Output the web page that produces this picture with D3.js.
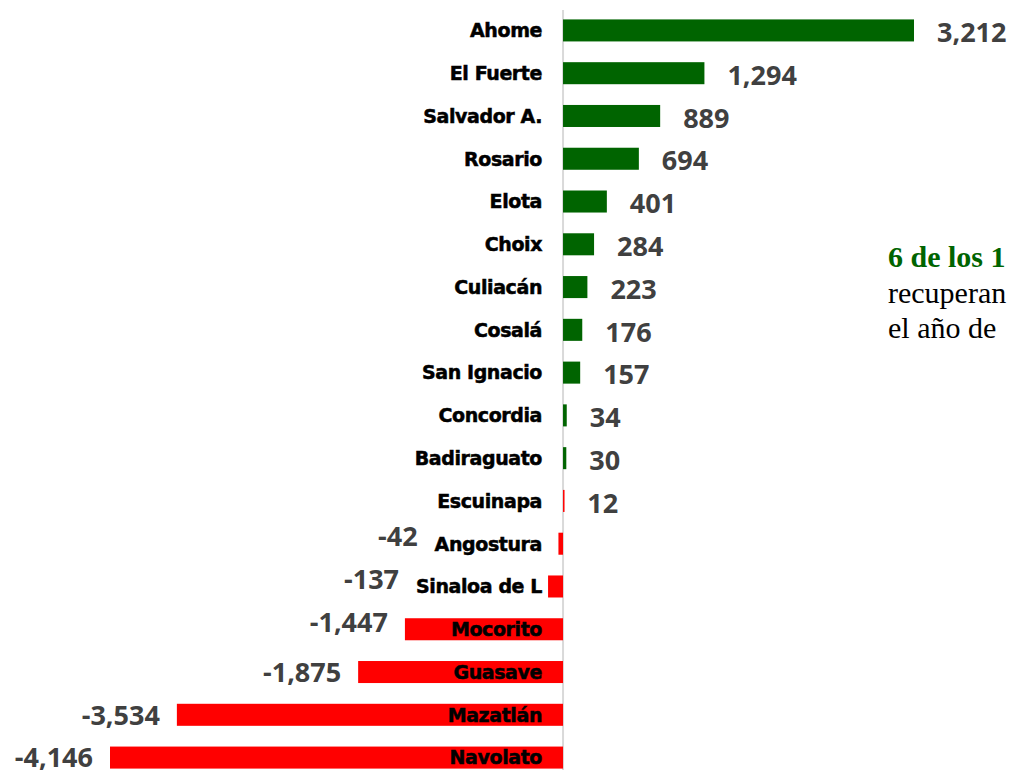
<!DOCTYPE html>
<html><head><meta charset="utf-8">
<script src="https://cdn.jsdelivr.net/npm/d3@7"></script>
<style>body{margin:0;background:#fff;overflow:hidden}</style>
</head><body>
<svg id="c" width="1011" height="770"></svg>
<script>
const categories = ["Ahome","El Fuerte","Salvador A.","Rosario","Elota","Choix","Culiacán","Cosalá","San Ignacio","Concordia","Badiraguato","Escuinapa","Angostura","Sinaloa de L","Mocorito","Guasave","Mazatlán","Navolato"];
const values = [3212,1294,889,694,401,284,223,176,157,34,30,12,-42,-137,-1447,-1875,-3534,-4146];
const redCategories = ["Escuinapa","Angostura","Sinaloa de L","Mocorito","Guasave","Mazatlán","Navolato"];
const noteLines = ["6 de los 1", "recuperan", "el año de"];

const svg = d3.select("#c");
const x = d3.scaleLinear().domain([-4146, 3212]).range([110, 914]);
const y = d3.scaleBand().domain(categories).range([10, 778]).paddingInner(0.485).paddingOuter(0.22);
const fmt = v => d3.format(",")(v).replace("\u2212", "-");
const green = "#006400", red = "#ff0000";

svg.append("line").attr("x1", x(0)).attr("x2", x(0)).attr("y1", 10).attr("y2", 770)
  .attr("stroke", "#d9d9d9").attr("stroke-width", 2);

const rows = svg.selectAll("g.row").data(categories).join("g").attr("class","row");
rows.append("rect")
  .attr("x", (d,i) => Math.min(x(0), x(values[i])))
  .attr("y", d => y(d))
  .attr("width", (d,i) => Math.max(1.5, Math.abs(x(values[i]) - x(0))))
  .attr("height", y.bandwidth())
  .attr("fill", d => redCategories.includes(d) ? red : green);

const labels = rows.append("text")
  .attr("x", x(0) - 21)
  .attr("y", d => y(d) + y.bandwidth()/2)
  .attr("dy", "0.36em")
  .attr("text-anchor", "end")
  .attr("font-family", "'DejaVu Sans', sans-serif")
  .attr("font-weight", 700)
  .attr("font-size", 19)
  .attr("letter-spacing", -0.4)
  .attr("fill", "#000")
  .attr("stroke", "#000")
  .attr("stroke-width", 0.5)
  .text(d => d);

const labelLeft = [];
labels.each(function(d,i){ labelLeft[i] = x(0) - 21 - this.getComputedTextLength(); });

rows.append("text")
  .attr("x", (d,i) => values[i] >= 0 ? x(values[i]) + 23 : Math.min(x(values[i]), labelLeft[i]) - 17)
  .attr("y", (d,i) => y(d) + y.bandwidth()/2 + (values[i] >= 0 ? 2 : (values[i] > -1500 ? -7 : 0)))
  .attr("dy", "0.36em")
  .attr("text-anchor", (d,i) => values[i] >= 0 ? "start" : "end")
  .attr("font-family", "'Open Sans', sans-serif")
  .attr("font-weight", 700)
  .attr("font-size", 27)
  .attr("fill", "#404040")
  .text((d,i) => fmt(values[i]));

const note = svg.append("text").attr("font-family", "'Liberation Serif', 'Times New Roman', serif").attr("font-size", 30);
note.append("tspan").attr("x", 888).attr("y", 267).attr("font-weight", 700).attr("fill", green).text(noteLines[0]);
note.append("tspan").attr("x", 888).attr("y", 303).attr("fill", "#000").text(noteLines[1]);
note.append("tspan").attr("x", 888).attr("y", 338).attr("fill", "#000").text(noteLines[2]);
</script>
</body></html>
